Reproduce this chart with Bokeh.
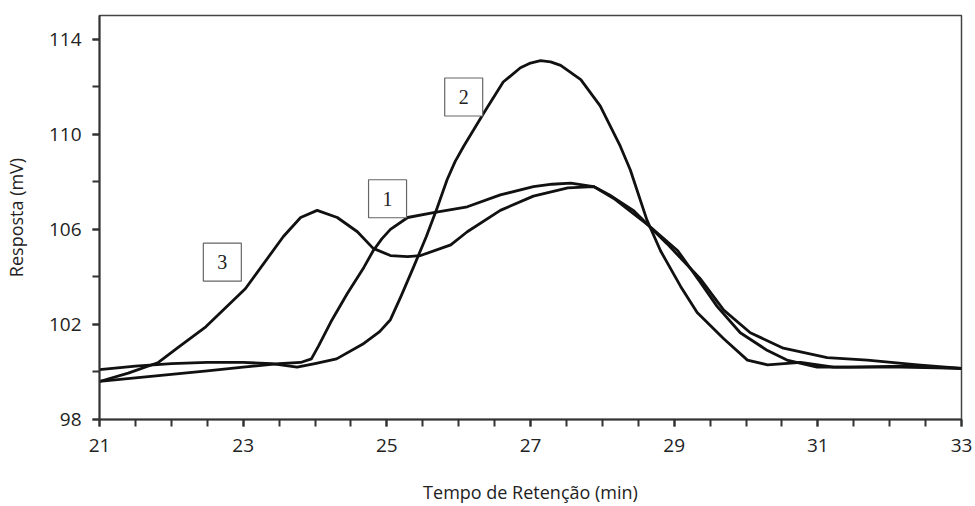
from bokeh.plotting import figure
from bokeh.models import Range1d, FixedTicker
from bokeh.core.properties import value
from bokeh.embed import file_html
from bokeh.resources import INLINE

# ---- data ----
curve1_x = [21, 21.5, 22, 22.5, 23, 23.5, 23.8, 23.95, 24.05, 24.22, 24.45, 24.68, 24.81,
            24.93, 25.05, 25.29, 25.65, 26.12, 26.58, 27.04, 27.3, 27.56, 27.88, 28.1, 28.43,
            28.9, 29.37, 29.69, 30.06, 30.52, 31.13, 31.69, 32.39, 33]
curve1_y = [99.6, 99.75, 99.9, 100.05, 100.2, 100.35, 100.4, 100.55, 101.1, 102.1, 103.3,
            104.4, 105.1, 105.6, 106.0, 106.5, 106.7, 106.95, 107.45, 107.8, 107.9, 107.95,
            107.8, 107.45, 106.8, 105.4, 103.9, 102.6, 101.65, 101.0, 100.6, 100.5, 100.3,
            100.15]

curve2_x = [21, 21.5, 22, 22.5, 23, 23.4, 23.75, 24.0, 24.3, 24.68, 24.9, 25.05, 25.2,
            25.37, 25.55, 25.7, 25.84, 25.95, 26.07, 26.35, 26.62, 26.86, 27.0, 27.14, 27.28,
            27.42, 27.7, 27.97, 28.25, 28.39, 28.62, 28.81, 29.09, 29.32, 29.69, 30.02,
            30.3, 30.76, 31.22, 32.15, 33]
curve2_y = [100.1, 100.25, 100.35, 100.4, 100.4, 100.35, 100.2, 100.35, 100.55, 101.2,
            101.7, 102.2, 103.2, 104.4, 105.7, 106.9, 108.1, 108.85, 109.5, 110.9, 112.2,
            112.8, 113.0, 113.1, 113.05, 112.9, 112.3, 111.2, 109.5, 108.5, 106.4, 105.1,
            103.6, 102.5, 101.4, 100.5, 100.3, 100.4, 100.2, 100.2, 100.15]

curve3_x = [21, 21.4, 21.82, 22.1, 22.48, 23.03, 23.56, 23.8, 24.03, 24.31, 24.59, 24.81,
            25.05, 25.29, 25.47, 25.89, 26.12, 26.58, 27.04, 27.52, 27.88, 28.16, 28.67,
            29.05, 29.37, 29.6, 29.92, 30.3, 30.57, 30.99, 31.46, 32.2, 33]
curve3_y = [99.6, 99.95, 100.4, 101.05, 101.9, 103.5, 105.7, 106.5, 106.8, 106.5, 105.9,
            105.2, 104.9, 104.85, 104.9, 105.35, 105.9, 106.8, 107.4, 107.75, 107.8, 107.3,
            106.1, 105.1, 103.75, 102.75, 101.65, 100.9, 100.5, 100.2, 100.2, 100.25, 100.15]

label_text = ["1", "2", "3"]
label_x = [25.01, 26.07, 22.71]
label_y = [107.29, 111.57, 104.62]

x_major = [21, 23, 25, 27, 29, 31, 33]
x_minor = [21 + 0.5 * i for i in range(25)]
y_major = [98, 102, 106, 110, 114]
y_minor = [98, 100, 102, 104, 106, 108, 110, 112, 114]

# ---- figure ----
p = figure(width=975, height=506, x_range=Range1d(21, 33), y_range=Range1d(98, 115),
           output_backend="svg", toolbar_location=None,
           min_border_left=99, min_border_right=14, min_border_top=15, min_border_bottom=86)
p.background_fill_color = "white"
p.border_fill_color = "white"
p.xgrid.visible = False
p.ygrid.visible = False
p.outline_line_color = "#444444"
p.outline_line_width = 1.5

for xs, ys in [(curve1_x, curve1_y), (curve2_x, curve2_y), (curve3_x, curve3_y)]:
    p.line(xs, ys, line_color="#111111", line_width=2.8, line_join="round")

p.rect(x=label_x, y=label_y, width=38, height=38, width_units="screen",
       height_units="screen", fill_color="white", line_color="#666666", line_width=1.2)
p.text(x=label_x, y=label_y, text=label_text, text_font=value("Liberation Serif"),
       text_font_size="20px", text_align="center", text_baseline="middle",
       text_color="#222222")

font = "Open Sans"
for ax in (p.xaxis[0], p.yaxis[0]):
    ax.axis_line_color = "#333333"
    ax.axis_line_width = 2
    ax.major_tick_line_color = "#333333"
    ax.minor_tick_line_color = "#333333"
    ax.major_tick_line_width = 2
    ax.minor_tick_line_width = 2
    ax.major_tick_in = 0
    ax.minor_tick_in = 0
    ax.major_tick_out = 7
    ax.minor_tick_out = 7
    ax.major_label_text_font = font
    ax.major_label_text_font_size = "19px"
    ax.major_label_text_color = "#222222"
    ax.axis_label_text_font = font
    ax.axis_label_text_font_size = "18px"
    ax.axis_label_text_font_style = "normal"
    ax.axis_label_text_color = "#222222"

p.xaxis.ticker = FixedTicker(ticks=x_major, minor_ticks=x_minor)
p.yaxis.ticker = FixedTicker(ticks=y_major, minor_ticks=y_minor)
p.xaxis.axis_label = "Tempo de Retenção (min)"
p.yaxis.axis_label = "Resposta (mV)"
p.xaxis.major_label_standoff = 12
p.xaxis.axis_label_standoff = 25
p.yaxis.major_label_standoff = 11
p.yaxis.axis_label_standoff = 18

open("out.html", "w").write(file_html(p, INLINE))
